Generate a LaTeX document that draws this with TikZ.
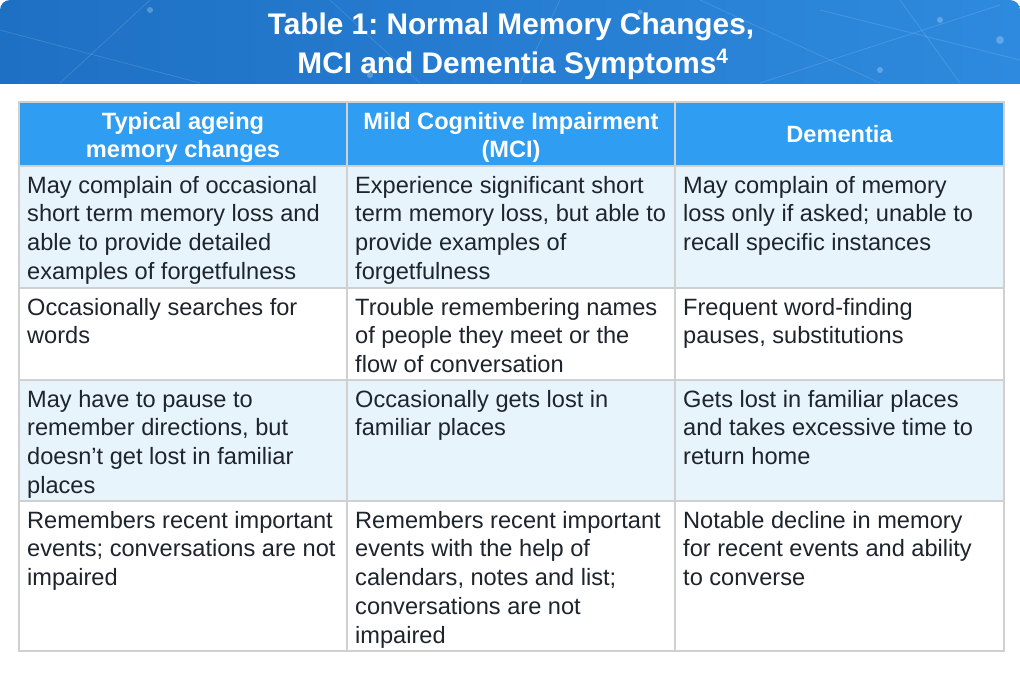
\documentclass[tikz,border=0pt]{standalone}
\usepackage{fontspec}
\setmainfont{Liberation Sans}
\frenchspacing
\definecolor{bandA}{RGB}{30,112,196}
\definecolor{bandB}{RGB}{46,138,222}
\definecolor{headrow}{RGB}{46,157,242}
\definecolor{lightrow}{RGB}{232,244,251}
\definecolor{gridline}{RGB}{208,208,208}
\definecolor{bodytext}{RGB}{30,36,44}
\begin{document}
\begin{tikzpicture}[x=1pt,y=-1pt,
  body/.style={anchor=base west, align=left, inner sep=0pt,
    font=\fontsize{23.6}{28.8}\selectfont, text=bodytext},
  headtxt/.style={anchor=base, align=center, inner sep=0pt,
    font=\bfseries\fontsize{23.6}{28}\selectfont, text=white},
  titletxt/.style={anchor=base, inner sep=0pt,
    font=\bfseries\fontsize{29.8}{36}\selectfont, text=white},
  net/.style={white, opacity=0.13, line width=0.8pt},
  glow/.style={white, opacity=0.25},
  grid/.style={gridline, line width=1.5pt}]
\useasboundingbox (0,0) rectangle (1020,673);
\fill[white] (0,0) rectangle (1020,673);
% header band
\begin{scope}
  \clip (0,0) rectangle (1020,83);
  \shade[left color=bandA, right color=bandB, rounded corners=10pt] (0,0) rectangle (1020,110);
  \draw[net] (150,0) -- (60,83);
  \draw[net] (330,0) -- (420,83);
  \draw[net] (560,0) -- (520,83);
  \draw[net] (700,0) -- (880,83);
  \draw[net] (820,10) -- (1020,60);
  \draw[net] (900,0) -- (960,83);
  \draw[net] (760,83) -- (1000,5);
  \draw[net] (0,30) -- (200,83);
  \fill[glow] (1000,40) circle (4);
  \fill[glow] (940,20) circle (3);
  \fill[glow] (880,70) circle (3);
  \fill[glow] (370,75) circle (3);
  \fill[glow] (150,10) circle (3);
  \fill[glow] (640,12) circle (2.5);
\end{scope}
\node[titletxt] (t1) at (511,34) {Table 1: Normal Memory Changes,};
\node[titletxt] (t2) at (513,73) {MCI and Dementia Symptoms\textsuperscript{4}};
% table fills
\fill[headrow] (19,102) rectangle (1004,166);
\fill[lightrow] (19,166) rectangle (1004,288);
\fill[lightrow] (19,380) rectangle (1004,501);
% grid
\draw[grid] (19,166) -- (1004,166);
\draw[grid] (19,288) -- (1004,288);
\draw[grid] (19,380) -- (1004,380);
\draw[grid] (19,501) -- (1004,501);
\draw[grid] (347,102) -- (347,651);
\draw[grid] (675,102) -- (675,651);
\draw[grid] (19,102) rectangle (1004,651);
% header texts (anchor = baseline of last line)
\node[headtxt] (h1) at (183,157.3) {Typical ageing\\memory changes};
\node[headtxt] (h2) at (511,157.3) {Mild Cognitive Impairment\\(MCI)};
\node[headtxt] (h3) at (839.5,142.5) {Dementia};
% row 1
\node[body] (r1a) at (27,279.4) {May complain of occasional\\short term memory loss and\\able to provide detailed\\examples of forgetfulness};
\node[body] (r1b) at (355,279.4) {Experience significant short\\term memory loss, but able to\\provide examples of\\forgetfulness};
\node[body] (r1c) at (683,250.6) {May complain of memory\\loss only if asked; unable to\\recall specific instances};
% row 2
\node[body] (r2a) at (27,343.8) {Occasionally searches for\\words};
\node[body] (r2b) at (355,372.6) {Trouble remembering names\\of people they meet or the\\flow of conversation};
\node[body] (r2c) at (683,343.8) {Frequent word-finding\\pauses, substitutions};
% row 3
\node[body] (r3a) at (27,493.4) {May have to pause to\\remember directions, but\\doesn’t get lost in familiar\\places};
\node[body] (r3b) at (355,435.8) {Occasionally gets lost in\\familiar places};
\node[body] (r3c) at (683,464.6) {Gets lost in familiar places\\and takes excessive time to\\return home};
% row 4
\node[body] (r4a) at (27,585.6) {Remembers recent important\\events; conversations are not\\impaired};
\node[body] (r4b) at (355,643.2) {Remembers recent important\\events with the help of\\calendars, notes and list;\\conversations are not\\impaired};
\node[body] (r4c) at (683,585.6) {Notable decline in memory\\for recent events and ability\\to converse};
\end{tikzpicture}
\end{document}
